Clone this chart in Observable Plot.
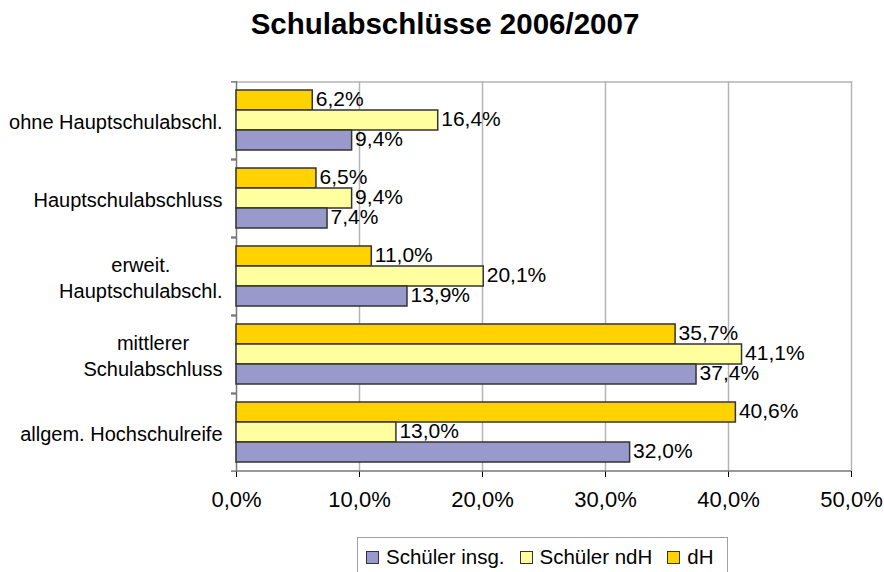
<!DOCTYPE html>
<html>
<head>
<meta charset="utf-8">
<script src="https://cdn.jsdelivr.net/npm/d3@7"></script>
<script src="https://cdn.jsdelivr.net/npm/@observablehq/plot@0.6"></script>
<style>
  html, body { margin: 0; padding: 0; background: #fff; width: 884px; height: 572px; overflow: hidden; }
  body { position: relative; font-family: "Liberation Sans", Arial, sans-serif; }
  #title { position: absolute; left: 0; top: 8px; width: 890px; text-align: center; font-weight: bold; font-size: 29.5px; line-height: 32px; color: #000; }
  #chart { position: absolute; left: 0; top: 0; }
  #legend { position: absolute; left: 357px; top: 537px; width: 371px; height: 44px; border: 1px solid #a0a0a0; box-sizing: border-box; display: flex; align-items: flex-start; padding-left: 8px; padding-top: 7px; font-size: 20.5px; line-height: 24px; white-space: nowrap; }
  .item { display: flex; align-items: center; margin-right: 15px; flex-shrink: 0; }
  .sw { width: 11px; height: 11px; border: 1px solid #333; margin-right: 7px; flex-shrink: 0; }
</style>
</head>
<body>
<div id="title">Schulabschlüsse 2006/2007</div>
<div id="chart"></div>
<div id="legend"></div>
<script>
// ---- data ----
const categories = [
  "ohne Hauptschulabschl.",
  "Hauptschulabschluss",
  "erweit.\nHauptschulabschl.",
  "mittlerer\nSchulabschluss",
  "allgem. Hochschulreife"
];
const seriesKeys = ["dH", "ndH", "insg"];
const seriesLabels = ["dH", "Schüler ndH", "Schüler insg."];
const seriesColors = ["#FFD200", "#FFFFA0", "#9999CC"];
const dH   = [6.2, 6.5, 11.0, 35.7, 40.6];
const ndH  = [16.4, 9.4, 20.1, 41.1, 13.0];
const insg = [9.4, 7.4, 13.9, 37.4, 32.0];
const xTicks = [0, 10, 20, 30, 40, 50];
const legendOrder = ["insg", "ndH", "dH"];

// ---- build rows ----
const valuesBySeries = {dH, ndH, insg};
const rows = [];
categories.forEach((c, i) => {
  seriesKeys.forEach(s => rows.push({cat: c, series: s, value: valuesBySeries[s][i]}));
});

const fmt = v => v.toFixed(1).replace(".", ",") + "%";
const font = "'Liberation Sans', Arial, sans-serif";

// measure category labels for centered multi-line blocks
const ctx = document.createElement("canvas").getContext("2d");
ctx.font = "20px 'Liberation Sans'";
const labelMarks = categories.map(c => {
  const w = Math.max(...c.split("\n").map(l => ctx.measureText(l).width));
  return Plot.text([c], {
    fy: d => d, frameAnchor: "left", text: d => d, textAnchor: "middle",
    dx: -(14 + w / 2), fontSize: 20, lineHeight: 1.3, fill: "#000"
  });
});

const bandOff = 18.6;

const chart = Plot.plot({
  width: 884,
  height: 520,
  marginLeft: 236,
  marginRight: 33,
  marginTop: 79,
  marginBottom: 48,
  style: {fontFamily: font, fontSize: "22px", color: "#000", background: "transparent"},
  x: {domain: [0, 50], ticks: xTicks, tickFormat: fmt, tickSize: 6, tickPadding: 14, label: null},
  y: {domain: seriesKeys, paddingInner: 0, paddingOuter: 0.4, axis: null},
  fy: {domain: categories, padding: 0, axis: null},
  color: {domain: seriesKeys, range: seriesColors},
  marks: [
    Plot.gridX({ticks: [10, 20, 30, 40, 50], stroke: "#b4b4b4", strokeOpacity: 1, strokeWidth: 1.5}),
    Plot.tickY([{c: categories[0], s: "dH"}], {fy: "c", y: "s", dy: -bandOff, stroke: "#b4b4b4", strokeWidth: 1.5}),
    Plot.tickY([{c: categories[categories.length - 1], s: "insg"}], {fy: "c", y: "s", dy: bandOff, stroke: "#777", strokeWidth: 1.5}),
    Plot.axisY({ticks: ["dH"], tickSize: 5, tickFormat: () => "", dy: -bandOff, stroke: "#777", strokeWidth: 1.5}),
    Plot.axisY({ticks: ["insg"], tickSize: 5, tickFormat: () => "", dy: bandOff, stroke: "#777", strokeWidth: 1.5}),
    Plot.ruleX([0], {stroke: "#777", strokeWidth: 1.5}),
    Plot.barX(rows, {fy: "cat", y: "series", x: "value", fill: "series", stroke: "#333", strokeWidth: 1.5}),
    Plot.text(rows, {fy: "cat", y: "series", x: "value", text: d => fmt(d.value), textAnchor: "start", dx: 3, dy: -1, fontSize: 21, fill: "#000"}),
    ...labelMarks
  ]
});
document.getElementById("chart").appendChild(chart);

// ---- legend ----
const legend = document.getElementById("legend");
legendOrder.forEach(k => {
  const i = seriesKeys.indexOf(k);
  const item = document.createElement("div");
  item.className = "item";
  const sw = document.createElement("div");
  sw.className = "sw";
  sw.style.background = seriesColors[i];
  const t = document.createElement("span");
  t.textContent = seriesLabels[i];
  item.appendChild(sw);
  item.appendChild(t);
  legend.appendChild(item);
});
</script>
</body>
</html>
